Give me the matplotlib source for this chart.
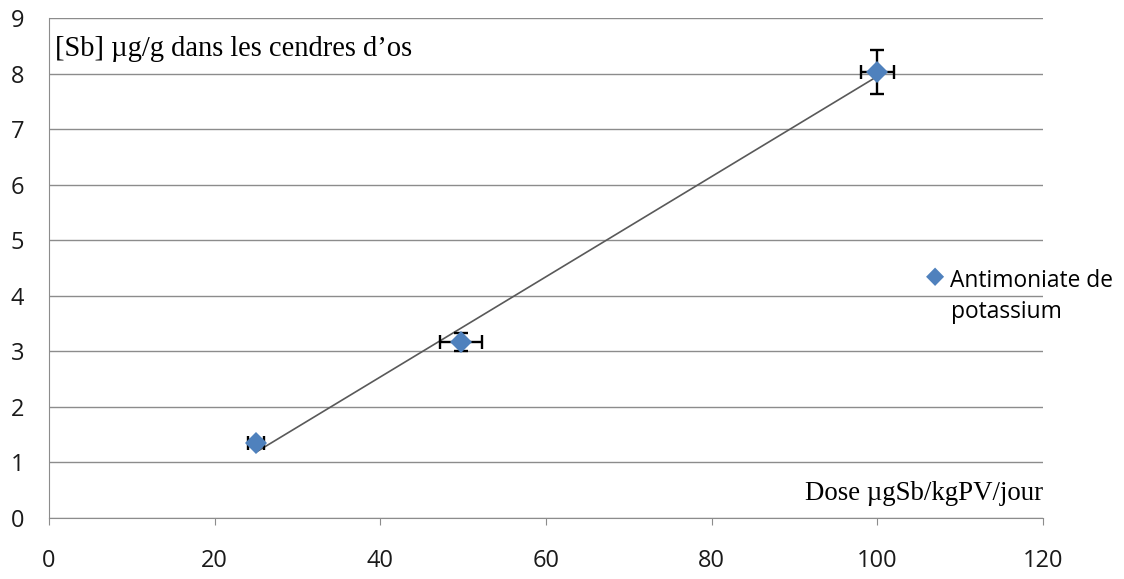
import numpy as np
import matplotlib
matplotlib.use("Agg")
import matplotlib.pyplot as plt

dose = [25, 49.7, 100]
sb = [1.35, 3.17, 8.03]
dose_err = [1.0, 2.55, 2.0]
sb_err = [0.06, 0.16, 0.40]
series_label = ["Antimoniate de", "potassium"]
y_title = "[Sb] µg/g dans les cendres d\u2019os"
x_title = "Dose µgSb/kgPV/jour"
xticks = [0, 20, 40, 60, 80, 100, 120]
yticks = [0, 1, 2, 3, 4, 5, 6, 7, 8, 9]

W, H = 1124, 579
fig = plt.figure(figsize=(W / 100, H / 100), dpi=100)
ax = fig.add_axes([49 / W, 1 - 518 / H, (1043 - 49) / W, (518 - 18) / H])
ax.set_xlim(0, 120)
ax.set_ylim(0, 9)

for y in yticks:
    ax.axhline(y, color="#8c8c8c", lw=1.0, zorder=0)

# linear trendline
coef = np.polyfit(dose, sb, 1)
xs = np.array([min(dose), max(dose)])
ax.plot(xs, np.polyval(coef, xs), color="#595959", lw=1.2, zorder=2)

ax.errorbar(dose, sb, xerr=dose_err, yerr=sb_err, fmt="none", ecolor="black",
            elinewidth=1.7, capsize=5, capthick=1.7, zorder=3)
ax.plot(dose, sb, "D", color="#4F81BD", markersize=11, markeredgewidth=0, zorder=4)

for s in ["top", "right"]:
    ax.spines[s].set_visible(False)
for s in ["left", "bottom"]:
    ax.spines[s].set_color("#8c8c8c")
ax.set_xticks(xticks)
ax.set_yticks(yticks)
ax.tick_params(axis="x", direction="out", length=5, color="#8c8c8c", labelsize=17, pad=17)
ax.tick_params(axis="y", length=0, labelsize=17, pad=18)
for lab in ax.get_xticklabels() + ax.get_yticklabels():
    lab.set_fontfamily("Open Sans")
    lab.set_color("#1a1a1a")

fig.canvas.draw()
renderer = fig.canvas.get_renderer()

def fit_text(x0, x1, yc, s, family, size0=16, **kw):
    t = fig.text(x0 / W, 1 - yc / H, s, fontsize=size0, fontfamily=family,
                 va="center_baseline", ha="left", **kw)
    w = t.get_window_extent(renderer).width
    t.set_fontsize(size0 * (x1 - x0) / w)
    return t

fit_text(55, 412, 46, y_title, "Liberation Serif")
fit_text(805, 1044, 490, x_title, "Liberation Serif")

# legend
fig.text(935 / W, 1 - 276 / H, "\u25c6", color="#4F81BD", fontsize=17,
         fontfamily="DejaVu Sans", va="center", ha="center")
t1 = fit_text(950, 1113, 278, series_label[0], "Open Sans")
fig.text(951 / W, 1 - 309 / H, series_label[1], fontsize=t1.get_fontsize(),
         fontfamily="Open Sans", va="center_baseline", ha="left")

fig.savefig("out.png", dpi=100)
